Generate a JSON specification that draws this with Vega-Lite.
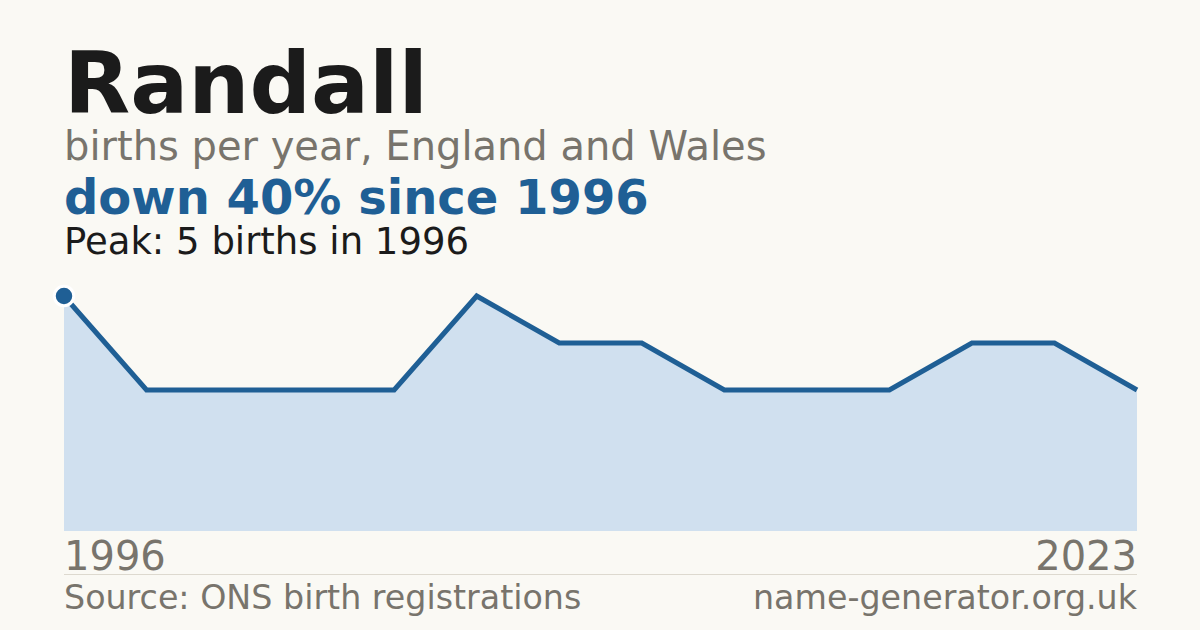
{
  "$schema": "https://vega.github.io/schema/vega-lite/v6.json",
  "width": 1200,
  "height": 630,
  "autosize": {"type": "none"},
  "padding": 0,
  "background": "#faf9f4",
  "config": {"view": {"stroke": null}, "text": {"font": "DejaVu Sans"}},
  "datasets": {
    "births": [
      {"i": 0, "births": 5},
      {"i": 1, "births": 3},
      {"i": 2, "births": 3},
      {"i": 3, "births": 3},
      {"i": 4, "births": 3},
      {"i": 5, "births": 5},
      {"i": 6, "births": 4},
      {"i": 7, "births": 4},
      {"i": 8, "births": 3},
      {"i": 9, "births": 3},
      {"i": 10, "births": 3},
      {"i": 11, "births": 4},
      {"i": 12, "births": 4},
      {"i": 13, "births": 3}
    ],
    "ends": [
      {"i": 0, "label": "1996"},
      {"i": 13, "label": "2023"}
    ]
  },
  "layer": [
    {
      "data": {"name": "births"},
      "mark": {"type": "area", "color": "#d0e0ef", "interpolate": "linear"},
      "encoding": {
        "x": {"field": "i", "type": "quantitative", "axis": null, "scale": {"domain": [0, 13], "range": [64, 1137], "nice": false, "zero": false}},
        "y": {"field": "births", "type": "quantitative", "axis": null, "scale": {"domain": [0, 5], "range": [531, 296], "nice": false, "zero": true}}
      }
    },
    {
      "data": {"name": "births"},
      "mark": {"type": "line", "color": "#1f5f95", "strokeWidth": 5, "interpolate": "linear"},
      "encoding": {
        "x": {"field": "i", "type": "quantitative"},
        "y": {"field": "births", "type": "quantitative"}
      }
    },
    {
      "data": {"name": "births"},
      "transform": [{"filter": "datum.i == 0"}],
      "mark": {"type": "point", "shape": "circle", "filled": true, "color": "#1f5f95", "stroke": "#ffffff", "strokeWidth": 3, "strokeOpacity": 1, "opacity": 1, "size": 380},
      "encoding": {
        "x": {"field": "i", "type": "quantitative"},
        "y": {"field": "births", "type": "quantitative"}
      }
    },
    {
      "data": {"name": "ends"},
      "transform": [{"filter": "datum.i == 0"}],
      "mark": {"type": "text", "align": "left", "baseline": "alphabetic", "fontSize": 40, "color": "#78746c"},
      "encoding": {
        "x": {"field": "i", "type": "quantitative"},
        "y": {"value": 570},
        "text": {"field": "label"}
      }
    },
    {
      "data": {"name": "ends"},
      "transform": [{"filter": "datum.i == 13"}],
      "mark": {"type": "text", "align": "right", "baseline": "alphabetic", "fontSize": 40, "color": "#78746c"},
      "encoding": {
        "x": {"field": "i", "type": "quantitative"},
        "y": {"value": 570},
        "text": {"field": "label"}
      }
    },
    {
      "data": {"values": [{"from": 0, "to": 13}]},
      "mark": {"type": "rule", "color": "#ddd9cf", "strokeWidth": 1},
      "encoding": {
        "x": {"field": "from", "type": "quantitative"},
        "x2": {"field": "to"},
        "y": {"value": 574.5}
      }
    },
    {
      "data": {"values": [{"text": "Randall"}]},
      "mark": {"type": "text", "align": "left", "baseline": "alphabetic", "fontSize": 86, "fontWeight": "bold", "color": "#1b1b1b"},
      "encoding": {"x": {"value": 64}, "y": {"value": 113}, "text": {"field": "text"}}
    },
    {
      "data": {"values": [{"text": "births per year, England and Wales"}]},
      "mark": {"type": "text", "align": "left", "baseline": "alphabetic", "fontSize": 40, "color": "#78746c"},
      "encoding": {"x": {"value": 64}, "y": {"value": 160}, "text": {"field": "text"}}
    },
    {
      "data": {"values": [{"text": "down 40% since 1996"}]},
      "mark": {"type": "text", "align": "left", "baseline": "alphabetic", "fontSize": 48, "fontWeight": "bold", "color": "#1f5f95"},
      "encoding": {"x": {"value": 64}, "y": {"value": 214}, "text": {"field": "text"}}
    },
    {
      "data": {"values": [{"text": "Peak: 5 births in 1996"}]},
      "mark": {"type": "text", "align": "left", "baseline": "alphabetic", "fontSize": 37, "color": "#1b1b1b"},
      "encoding": {"x": {"value": 64}, "y": {"value": 254}, "text": {"field": "text"}}
    },
    {
      "data": {"values": [{"text": "Source: ONS birth registrations"}]},
      "mark": {"type": "text", "align": "left", "baseline": "alphabetic", "fontSize": 33.3, "color": "#78746c"},
      "encoding": {"x": {"value": 64}, "y": {"value": 609}, "text": {"field": "text"}}
    },
    {
      "data": {"values": [{"text": "name-generator.org.uk"}]},
      "mark": {"type": "text", "align": "right", "baseline": "alphabetic", "fontSize": 33.3, "color": "#78746c"},
      "encoding": {"x": {"value": 1137}, "y": {"value": 609}, "text": {"field": "text"}}
    }
  ]
}
